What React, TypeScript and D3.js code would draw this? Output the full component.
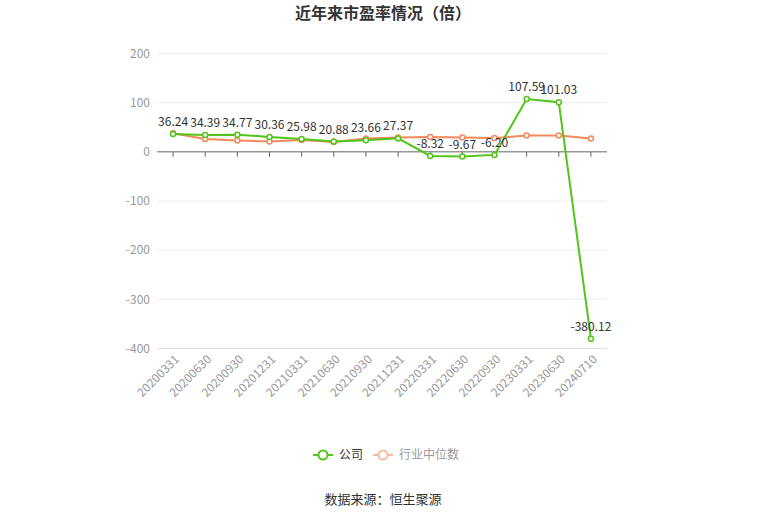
import React, { useEffect, useRef } from 'react';
import * as d3 from 'd3';

const categories = [
  "20200331", "20200630", "20200930", "20201231", "20210331", "20210630", "20210930",
  "20211231", "20220331", "20220630", "20220930", "20230331", "20230630", "20240710",
];
const companyPE = [36.24, 34.39, 34.77, 30.36, 25.98, 20.88, 23.66, 27.37, -8.32, -9.67, -6.2, 107.59, 101.03, -380.12];
const industryPE = [38, 26, 23, 21, 24, 20, 27, 29, 30, 29, 28, 33, 33, 27];
const yTicks = [200, 100, 0, -100, -200, -300, -400];

const GREEN = "#52c41a";
const ORANGE = "#f5895b";

export default function App() {
  const svgRef = useRef<SVGSVGElement>(null);

  useEffect(() => {
    document.body.style.margin = "0";
    if (!svgRef.current) return;
    const width = 765;
    const height = 517;
    const svg = d3.select(svgRef.current);
    svg.selectAll("*").remove();
    svg.attr("width", width).attr("height", height)
      .style("font-family", "'Noto Sans CJK SC', 'Noto Sans', sans-serif");

    const x = d3.scaleBand<string>().domain(categories).range([157, 607]);
    const cx = (d: string) => (x(d) as number) + x.bandwidth() / 2;
    const y = d3.scaleLinear().domain([-400, 200]).range([348.5, 53.5]);

    // title
    svg.append("text")
      .attr("x", 383).attr("y", 19)
      .attr("text-anchor", "middle")
      .attr("font-size", 16).attr("font-weight", "bold")
      .attr("fill", "#333")
      .text("近年来市盈率情况（倍）");

    // grid
    svg.append("g").selectAll("line")
      .data(yTicks.filter(t => t !== 0))
      .enter().append("line")
      .attr("x1", 157).attr("x2", 607)
      .attr("y1", d => y(d)).attr("y2", d => y(d))
      .attr("stroke", d => d === -400 ? "#dde2ee" : "#eaecf4")
      .attr("stroke-width", 1);

    // y labels
    svg.append("g").selectAll("text")
      .data(yTicks)
      .enter().append("text")
      .attr("x", 150).attr("y", d => y(d))
      .attr("dy", "0.35em")
      .attr("text-anchor", "end")
      .attr("font-size", 12)
      .attr("fill", "#999")
      .text(d => d);

    // zero axis
    svg.append("line")
      .attr("x1", 157).attr("x2", 607)
      .attr("y1", y(0)).attr("y2", y(0))
      .attr("stroke", "#666");
    svg.append("g").selectAll("line")
      .data(categories)
      .enter().append("line")
      .attr("x1", d => cx(d)).attr("x2", d => cx(d))
      .attr("y1", y(0)).attr("y2", y(0) + 5)
      .attr("stroke", "#666");

    // x labels
    svg.append("g").selectAll("text")
      .data(categories)
      .enter().append("text")
      .attr("transform", d => `translate(${cx(d) + 4},${357}) rotate(-45)`)
      .attr("text-anchor", "end")
      .attr("dy", "0.35em")
      .attr("font-size", 12)
      .attr("fill", "#999")
      .text(d => d);

    const line = d3.line<number>()
      .x((_, i) => cx(categories[i]))
      .y(d => y(d));

    const drawSeries = (vals: number[], color: string) => {
      svg.append("path")
        .datum(vals)
        .attr("d", line)
        .attr("fill", "none")
        .attr("stroke", color)
        .attr("stroke-width", 2);
      svg.append("g").selectAll("circle")
        .data(vals)
        .enter().append("circle")
        .attr("cx", (_, i) => cx(categories[i]))
        .attr("cy", d => y(d))
        .attr("r", 2.5)
        .attr("fill", "#fff")
        .attr("stroke", color)
        .attr("stroke-width", 1.5);
    };

    drawSeries(industryPE, ORANGE);
    drawSeries(companyPE, GREEN);

    // labels for company
    svg.append("g").selectAll("text")
      .data(companyPE)
      .enter().append("text")
      .attr("x", (_, i) => cx(categories[i]))
      .attr("y", d => y(d) - 8)
      .attr("text-anchor", "middle")
      .attr("font-size", 12)
      .attr("fill", "#333")
      .text(d => d.toFixed(2));

    // legend
    const legend = [
      { name: "公司", color: GREEN, text: "#333", x: 313 },
      { name: "行业中位数", color: "#fbb9a0", text: "#999", x: 373 },
    ];
    const lg = svg.append("g").selectAll("g")
      .data(legend)
      .enter().append("g")
      .attr("transform", d => `translate(${d.x},455)`);
    lg.append("line")
      .attr("x1", 0).attr("x2", 20)
      .attr("stroke", d => d.color).attr("stroke-width", 2);
    lg.append("circle")
      .attr("cx", 10).attr("r", 4.5)
      .attr("fill", "#fff")
      .attr("stroke", d => d.color).attr("stroke-width", 2);
    lg.append("text")
      .attr("x", 26).attr("dy", "0.35em")
      .attr("font-size", 12)
      .attr("fill", d => d.text)
      .text(d => d.name);

    // source
    svg.append("text")
      .attr("x", 383).attr("y", 504)
      .attr("text-anchor", "middle")
      .attr("font-size", 13)
      .attr("fill", "#333")
      .text("数据来源：恒生聚源");
  }, []);

  return <svg ref={svgRef} style={{ display: "block" }}></svg>;
}
